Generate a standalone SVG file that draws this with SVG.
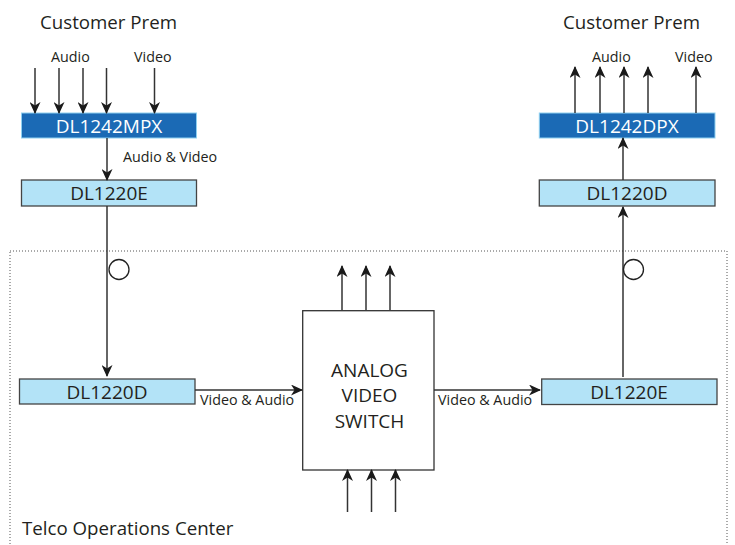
<svg xmlns="http://www.w3.org/2000/svg" width="735" height="545" viewBox="0 0 735 545">
<defs>
<marker id="ah" markerWidth="12" markerHeight="11" refX="11" refY="5.5" orient="auto" markerUnits="userSpaceOnUse">
<path d="M0,0 L12,5.5 L0,11 L3.5,5.5 Z" fill="#1a1a1a"/>
</marker>
<style>
text{font-family:"Open Sans","Noto Sans","Liberation Sans",sans-serif;fill:#231f20}
.t17{font-size:18.7px}
.lbl{font-size:14.3px}
.dark rect{fill:#1b6ab5;stroke:#8fd0f0;stroke-width:1}
.dark text{fill:#ffffff;font-size:19px;text-anchor:middle}
.light rect{fill:#b3e3f7;stroke:#444;stroke-width:1.3}
.light text{font-size:19px;text-anchor:middle}
.sw{font-size:19px;text-anchor:middle}
.con line{stroke:#333;stroke-width:1.5;fill:none}
.arr{marker-end:url(#ah)}
.circ{fill:#fff;stroke:#222;stroke-width:1.3}
</style>
</defs>
<rect x="10" y="251" width="717" height="310" fill="none" stroke="#555" stroke-width="1" stroke-dasharray="1,2"/>
<text class="t17" x="40" y="28.5">Customer Prem</text>
<text class="t17" x="563" y="28.5">Customer Prem</text>
<text class="lbl" x="51" y="62">Audio</text>
<text class="lbl" x="134" y="62">Video</text>
<text class="lbl" x="592" y="62">Audio</text>
<text class="lbl" x="675" y="62">Video</text>
<text class="t17" x="22" y="535">Telco Operations Center</text>
<g id="mpx" class="dark"><rect x="21.5" y="113" width="175" height="25"/><text x="109" y="132.5">DL1242MPX</text></g>
<g id="enc1" class="light"><rect x="21.5" y="180" width="175" height="26"/><text x="109" y="199.5">DL1220E</text></g>
<g id="dec1" class="light"><rect x="19.5" y="379" width="175.5" height="25"/><text x="107" y="398.5">DL1220D</text></g>
<g id="switch"><rect x="302.7" y="310.7" width="131.3" height="159.3" fill="#fff" stroke="#333" stroke-width="1.3"/>
<text class="sw" x="369.5" y="377">ANALOG</text>
<text class="sw" x="369.5" y="402">VIDEO</text>
<text class="sw" x="369.5" y="427.5">SWITCH</text></g>
<g id="enc2" class="light"><rect x="541.7" y="379" width="175.3" height="25.5"/><text x="629" y="398.5">DL1220E</text></g>
<g id="dec2" class="light"><rect x="539.3" y="180" width="175.7" height="26"/><text x="627" y="199.5">DL1220D</text></g>
<g id="dpx" class="dark"><rect x="539.3" y="113" width="175.7" height="25"/><text x="627" y="132.5">DL1242DPX</text></g>
<g id="connectors" class="con">
<line class="arr" x1="35" y1="68" x2="35" y2="113"/>
<line class="arr" x1="59" y1="68" x2="59" y2="113"/>
<line class="arr" x1="83" y1="68" x2="83" y2="113"/>
<line class="arr" x1="106.5" y1="68" x2="106.5" y2="113"/>
<line class="arr" x1="154.5" y1="68" x2="154.5" y2="113"/>
<line class="arr" x1="107" y1="138" x2="107" y2="180"/>
<line class="arr" x1="107" y1="206" x2="107" y2="376"/>
<line class="arr" x1="195" y1="390" x2="302" y2="390"/>
<line class="arr" x1="434" y1="390" x2="540" y2="390"/>
<line class="arr" x1="623" y1="377" x2="623" y2="207"/>
<line class="arr" x1="623" y1="180" x2="623" y2="138"/>
<line class="arr" x1="575" y1="113" x2="575" y2="67"/>
<line class="arr" x1="600" y1="113" x2="600" y2="67"/>
<line class="arr" x1="624" y1="113" x2="624" y2="67"/>
<line class="arr" x1="648" y1="113" x2="648" y2="67"/>
<line class="arr" x1="696" y1="113" x2="696" y2="67"/>
<line class="arr" x1="342" y1="310" x2="342" y2="266"/>
<line class="arr" x1="366" y1="310" x2="366" y2="266"/>
<line class="arr" x1="390" y1="310" x2="390" y2="266"/>
<line class="arr" x1="347.5" y1="512" x2="347.5" y2="470"/>
<line class="arr" x1="371.5" y1="512" x2="371.5" y2="470"/>
<line class="arr" x1="395.5" y1="512" x2="395.5" y2="470"/>
<circle class="circ" cx="119" cy="269.5" r="10"/>
<circle class="circ" cx="633.5" cy="269.5" r="10"/>
<text class="lbl" x="123" y="162">Audio &amp; Video</text>
<text class="lbl" x="200" y="405">Video &amp; Audio</text>
<text class="lbl" x="438" y="405">Video &amp; Audio</text>
</g>
</svg>
